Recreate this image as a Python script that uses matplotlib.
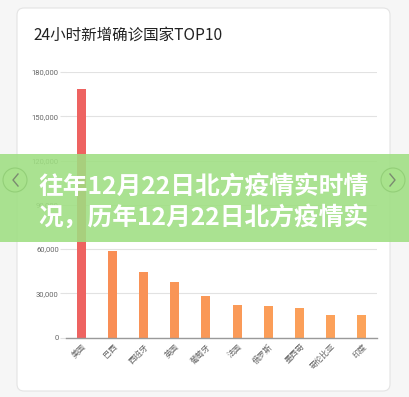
import matplotlib.pyplot as plt
from matplotlib.patches import FancyBboxPatch, Rectangle, Circle

plt.rcParams['font.family'] = ['Noto Sans CJK SC', 'DejaVu Sans']

# 数据
countries = ['美国', '巴西', '西班牙', '英国', '葡萄牙', '法国', '俄罗斯', '墨西哥', '哥伦比亚', '印度']
new_cases = [168200, 58900, 44300, 37700, 28200, 22300, 21400, 20300, 15400, 15200]
yticks = [0, 30000, 60000, 90000, 120000, 150000, 180000]
bar_colors = ['#ee6361', '#f98e55', '#f99256', '#f99556', '#fa9857', '#fa9a58',
              '#fb9d58', '#fb9f59', '#fca15a', '#fca35a']

title = '24小时新增确诊国家TOP10'
banner_lines = ['往年12月22日北方疫情实时情', '况，历年12月22日北方疫情实']

W, H = 409, 397
fig = plt.figure(figsize=(W / 100, H / 100), dpi=100)
fig.patch.set_facecolor('#f6f6f6')

# 背景卡片
bg = fig.add_axes([0, 0, 1, 1], zorder=0)
bg.set_xlim(0, W)
bg.set_ylim(H, 0)
bg.axis('off')
bg.add_patch(FancyBboxPatch((17, 8), 373, 383, boxstyle='round,pad=0,rounding_size=7',
                            facecolor='white', edgecolor='#e4e4e4', linewidth=0.8))
bg.text(33, 35, title, fontsize=11.2, color='#222222', va='center', ha='left',
        fontweight='medium')

# 柱状图
ax = fig.add_axes([65.7 / W, 1 - 337.7 / H, 311.6 / W, 265.7 / H], zorder=1)
ax.patch.set_alpha(0)
x = range(len(countries))
ax.bar(x, new_cases, width=0.29, color=bar_colors, zorder=2)
ax.set_xlim(-0.5, len(countries) - 0.5)
ax.set_ylim(0, 180000)
ax.set_yticks(yticks)
ax.set_yticklabels([f'{v:,}' for v in yticks], fontsize=5.5, color='#666666',
                   family=['Roboto', 'DejaVu Sans'])
ax.set_xticks(list(x))
ax.set_xticklabels(countries, rotation=45, ha='right', rotation_mode='anchor',
                   fontsize=5.8, color='#666666')
ax.yaxis.grid(True, color='#e2e2e2', linewidth=0.8, zorder=0)
ax.set_axisbelow(True)
for s in ['top', 'right', 'left']:
    ax.spines[s].set_visible(False)
ax.spines['bottom'].set_color('#9a9a9a')
ax.spines['bottom'].set_linewidth(1.0)
ax.tick_params(axis='y', length=4, color='#e2e2e2', pad=1)
ax.tick_params(axis='x', length=0, pad=3)

# 绿色横幅
fg = fig.add_axes([0, 0, 1, 1], zorder=3)
fg.set_xlim(0, W)
fg.set_ylim(H, 0)
fg.axis('off')
fg.patch.set_alpha(0)
fg.add_patch(Rectangle((0, 154), W, 88, facecolor='#9fdf82', alpha=0.88, linewidth=0))
for cx in (15, 393):
    fg.add_patch(Circle((cx, 180), 12, facecolor='#a8e28c', edgecolor='#93cf78', linewidth=0.8))
fg.plot([18, 13, 18], [174, 180, 186], color='#7a8a70', linewidth=1.0)
fg.plot([390, 395, 390], [174, 180, 186], color='#7a8a70', linewidth=1.0)
fg.text(38, 202.5, '\n'.join(banner_lines), fontsize=17.8, color='white', fontweight='bold',
        va='center', ha='left', linespacing=1.3)

fig.savefig('out.png', dpi=100)
